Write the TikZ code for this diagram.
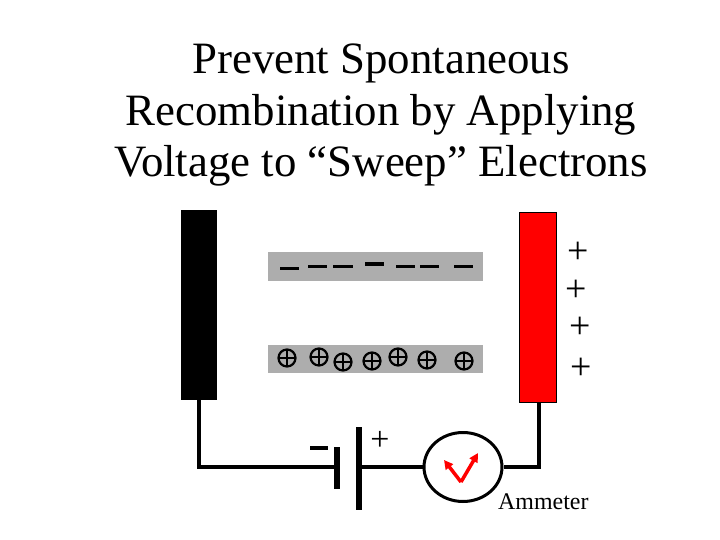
\documentclass[tikz,border=0pt]{standalone}
\usepackage{fontspec}
\setmainfont{Liberation Serif}
\usetikzlibrary{arrows.meta,shapes.geometric}
\begin{document}
\begin{tikzpicture}[x=1bp,y=-1bp,
  wire/.style={line width=4bp,line join=miter},
  elec/.style={line width=3bp},
  pc/.style={circle,draw,line width=2.2bp,minimum size=17bp,inner sep=0pt,
    path picture={\draw[line width=2bp] (path picture bounding box.north)--(path picture bounding box.south) (path picture bounding box.west)--(path picture bounding box.east);}},
  plus/.style={font=\fontsize{38}{38}\selectfont,inner sep=0pt}]
\useasboundingbox (0,0) rectangle (720,540);
\node[font=\fontsize{45}{52}\selectfont,align=center] (title) at (381,115)
  {Prevent Spontaneous\\Recombination by Applying\\Voltage to “Sweep” Electrons};
\node[fill=black,minimum width=36bp,minimum height=190bp,inner sep=0pt] (neg) at (199,305) {};
\node[fill=red,draw=black,line width=0.8bp,minimum width=37bp,minimum height=190bp,inner sep=0pt] (pos) at (537.5,307) {};
\node[fill=black!32,minimum width=215bp,minimum height=29bp,inner sep=0pt] (topbar) at (375.5,266.5) {};
\node[fill=black!32,minimum width=215bp,minimum height=28bp,inner sep=0pt] (botbar) at (375.5,359) {};
\foreach \a/\b/\y in {280/299/268,308/327/266,333/353/266,365/384/264,396/415/266,420/439/266,454/473/266}
  \draw[elec] (\a,\y)--(\b,\y);
\foreach \x/\y [count=\i] in {287/358,319/357,343/362,372/361,398/357,427/360,464/361}
  \node[pc] (h\i) at (\x,\y) {};
\foreach \x/\y [count=\i] in {578/253,576/291,580/328,581/369}
  \node[plus] (p\i) at (\x,\y) {+};
% ammeter
\node[ellipse,draw,line width=3bp,minimum width=78bp,minimum height=69bp,inner sep=0pt] (amm) at (463,467) {};
\coordinate (bl) at (199,467);
\coordinate (br) at (539,467);
\coordinate (bat1) at (337,467);
\coordinate (bat2) at (359,467);
\draw[wire] (neg.south -| bl) -- (bl) -- (bat1);
\draw[wire] (bat2) -- (amm.west);
\draw[wire] (amm.east) -- (br) -- (br |- pos.south);
\draw[line width=6bp] (337,447)--(337,489);
\draw[line width=6bp] (359,427)--(359,510);
\draw[line width=4bp] (310,448)--(328,448);
\node[font=\fontsize{34}{34}\selectfont,inner sep=0pt] (batplus) at (380,441) {+};
\coordinate (v) at (461,482);
\draw[red,line width=3.5bp,-{Triangle[length=9bp,width=9bp]}] (v)--(444,460);
\draw[red,line width=3.5bp,-{Triangle[length=9bp,width=9bp]}] (v)--(478,453);
\node[font=\fontsize{24}{24}\selectfont,anchor=west,inner sep=0pt] (lab) at (498,502) {Ammeter};
\end{tikzpicture}
\end{document}
